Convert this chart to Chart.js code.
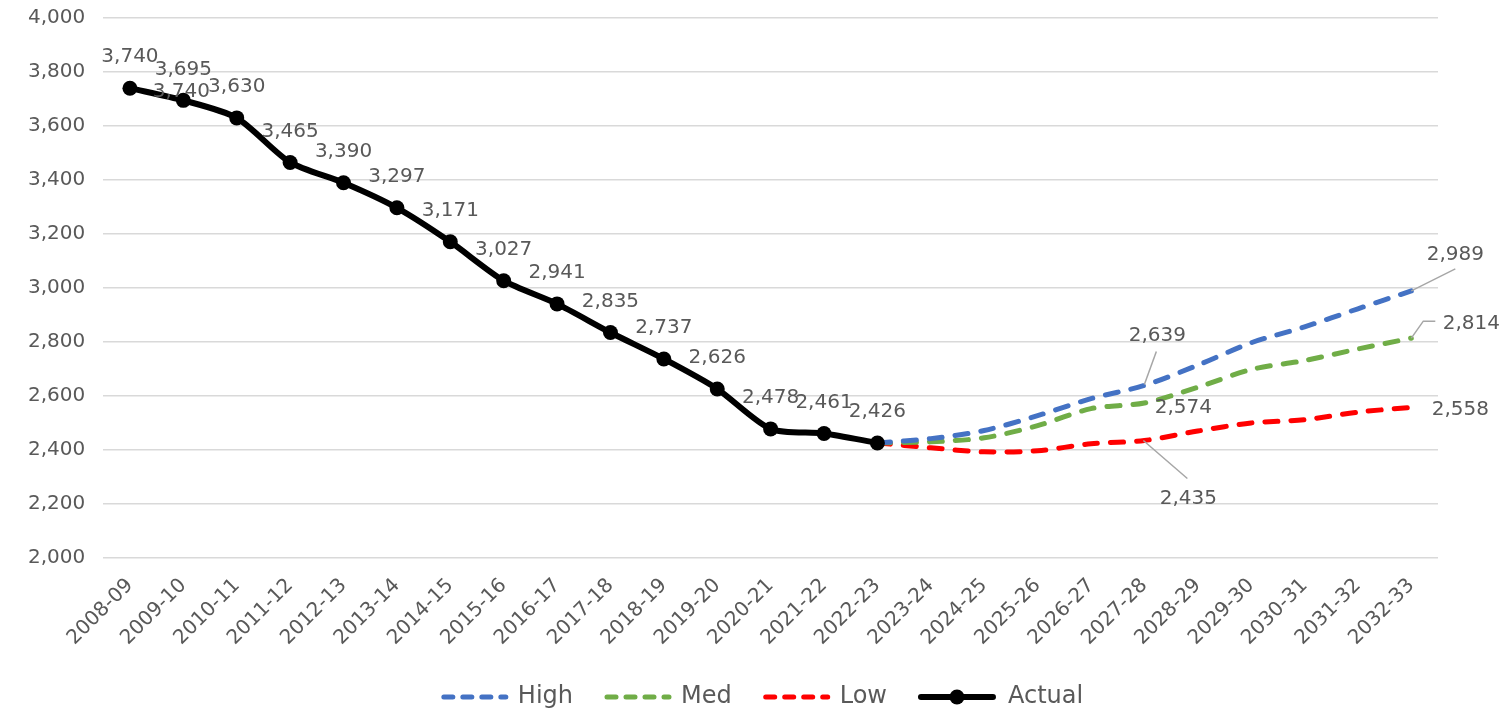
<!DOCTYPE html>
<html>
<head>
<meta charset="utf-8">
<script src="https://cdn.jsdelivr.net/npm/chart.js"></script>
<style>
  html, body { margin: 0; padding: 0; background: #fff; }
  #wrap { width: 1504px; height: 712px; position: relative; }
</style>
</head>
<body>
<div id="wrap"><canvas id="chart"></canvas></div>
<script>
// school years on the x axis
const years = ['2008-09', '2009-10', '2010-11', '2011-12', '2012-13', '2013-14', '2014-15',
    '2015-16', '2016-17', '2017-18', '2018-19', '2019-20', '2020-21', '2021-22', '2022-23',
    '2023-24', '2024-25', '2025-26', '2026-27', '2027-28', '2028-29', '2029-30', '2030-31',
    '2031-32', '2032-33'];

const actual = [3740, 3695, 3630, 3465, 3390, 3297, 3171, 3027, 2941, 2835, 2737, 2626, 2478, 2461, 2426];

// projections start from the last actual year (2022-23)
const pad = [null, null, null, null, null, null, null, null, null, null, null, null, null, null];
const high = pad.concat([2426, 2442, 2472, 2527, 2590, 2639, 2714, 2797, 2856, 2923, 2989]);
const med = pad.concat([2426, 2430, 2445, 2490, 2553, 2574, 2632, 2698, 2731, 2774, 2814]);
const low = pad.concat([2426, 2408, 2393, 2397, 2423, 2435, 2470, 2500, 2512, 2540, 2558]);

const yMin = 2000;
const yMax = 4000;
const yStep = 200;

const FONT = "'DejaVu Sans', sans-serif";
const TEXT = '#595959';

Chart.defaults.font.family = FONT;
Chart.defaults.color = TEXT;

function fmt(v) {
    return v.toLocaleString('en-US');
}

// labels on the projection lines: dataset index, point index, text offset, leader line
const projLabels = [
    { ds: 0, i: 24, dx: 44, dy: -36, leader: [[0, 0], [44, -22]] },
    { ds: 0, i: 19, dx: 13, dy: -50, leader: [[0, -1], [12, -34]] },
    { ds: 1, i: 24, dx: 60, dy: -14, leader: [[0, 0], [12, -17], [24, -17]] },
    { ds: 1, i: 19, dx: 39, dy: 5 },
    { ds: 2, i: 24, dx: 49, dy: 2 },
    { ds: 2, i: 19, dx: 44, dy: 58, leader: [[-1, 0], [43, 38]] }
];

const labelPlugin = {
    id: 'valueLabels',
    afterDatasetsDraw(chart) {
        const ctx = chart.ctx;
        const xs = chart.scales.x;
        const ys = chart.scales.y;
        ctx.save();
        ctx.font = '20px ' + FONT;
        ctx.fillStyle = TEXT;
        ctx.textAlign = 'center';
        ctx.textBaseline = 'middle';

        // actual series, labels above each point
        const meta = chart.getDatasetMeta(3);
        meta.data.forEach((pt, i) => {
            ctx.fillText(fmt(actual[i]), pt.x, pt.y - 31);
        });
        // stray duplicate label sitting over 2009-10
        ctx.fillText(fmt(actual[0]), xs.getPixelForValue(1) - 2, ys.getPixelForValue(actual[0]) + 4);

        // projections
        projLabels.forEach(l => {
            const pt = chart.getDatasetMeta(l.ds).data[l.i];
            const v = chart.data.datasets[l.ds].data[l.i];
            if (l.leader) {
                ctx.strokeStyle = '#a6a6a6';
                ctx.lineWidth = 1.5;
                ctx.beginPath();
                l.leader.forEach((p, k) => {
                    if (k === 0) ctx.moveTo(pt.x + p[0], pt.y + p[1]);
                    else ctx.lineTo(pt.x + p[0], pt.y + p[1]);
                });
                ctx.stroke();
            }
            ctx.fillText(fmt(v), pt.x + l.dx, pt.y + l.dy);
        });
        ctx.restore();
    }
};

// legend drawn by hand so the Actual entry can show its marker
const legendPlugin = {
    id: 'bottomLegend',
    afterDraw(chart) {
        const ctx = chart.ctx;
        const sets = chart.data.datasets;
        const y = chart.height - 15;
        ctx.save();
        ctx.font = '24px ' + FONT;
        ctx.textBaseline = 'middle';
        const items = sets.map(ds => {
            const sample = ds.borderDash ? 65 : 78;
            return { ds: ds, sample: sample, w: sample + 12 + ctx.measureText(ds.label).width };
        });
        const gap = 31;
        let total = items.reduce((s, it) => s + it.w, 0) + gap * (items.length - 1);
        let x = chart.width / 2 - total / 2 + 10;
        items.forEach(it => {
            ctx.strokeStyle = it.ds.borderColor;
            ctx.lineCap = 'round';
            if (it.ds.borderDash) {
                ctx.lineWidth = 5;
                ctx.setLineDash([9, 10]);
                ctx.beginPath();
                ctx.moveTo(x + 3, y);
                ctx.lineTo(x + it.sample, y);
                ctx.stroke();
            } else {
                ctx.lineWidth = 6;
                ctx.setLineDash([]);
                ctx.beginPath();
                ctx.moveTo(x + 3, y);
                ctx.lineTo(x + it.sample - 3, y);
                ctx.stroke();
                ctx.fillStyle = it.ds.borderColor;
                ctx.beginPath();
                ctx.arc(x + it.sample / 2, y, 7.5, 0, Math.PI * 2);
                ctx.fill();
            }
            ctx.setLineDash([]);
            ctx.fillStyle = TEXT;
            ctx.fillText(it.ds.label, x + it.sample + 12, y);
            x += it.w + gap;
        });
        ctx.restore();
    }
};

function dashed(label, data, color) {
    return {
        label: label,
        data: data,
        borderColor: color,
        backgroundColor: color,
        borderWidth: 5,
        borderDash: [13, 13],
        borderCapStyle: 'round',
        pointRadius: 0,
        tension: 0.3,
        fill: false,
        order: 1
    };
}

new Chart(document.getElementById('chart'), {
    type: 'line',
    data: {
        labels: years,
        datasets: [
            dashed('High', high, '#4472c4'),
            dashed('Med', med, '#70ad47'),
            dashed('Low', low, '#ff0000'),
            {
                label: 'Actual',
                data: actual,
                borderColor: '#000000',
                backgroundColor: '#000000',
                borderWidth: 6,
                pointRadius: 7.5,
                pointBorderWidth: 0,
                tension: 0.25,
                fill: false,
                order: 0
            }
        ]
    },
    options: {
        responsive: true,
        maintainAspectRatio: false,
        animation: false,
        layout: {
            padding: { left: 10, right: 66, top: 18, bottom: 54 }
        },
        scales: {
            x: {
                offset: true,
                grid: { display: false },
                border: { display: false },
                ticks: {
                    autoSkip: false,
                    minRotation: 45,
                    maxRotation: 45,
                    padding: 8,
                    color: TEXT,
                    font: { size: 20 }
                }
            },
            y: {
                min: yMin,
                max: yMax,
                grid: { color: '#d9d9d9', lineWidth: 1.5, drawTicks: false },
                border: { display: false },
                // let the top tick label hang over the padding
                afterFit(scale) {
                    scale.paddingTop = 0;
                },
                ticks: {
                    stepSize: yStep,
                    padding: 18,
                    color: TEXT,
                    font: { size: 20 },
                    callback: v => fmt(v)
                }
            }
        },
        plugins: {
            legend: { display: false },
            tooltip: { enabled: false }
        }
    },
    plugins: [labelPlugin, legendPlugin]
});
</script>
</body>
</html>
